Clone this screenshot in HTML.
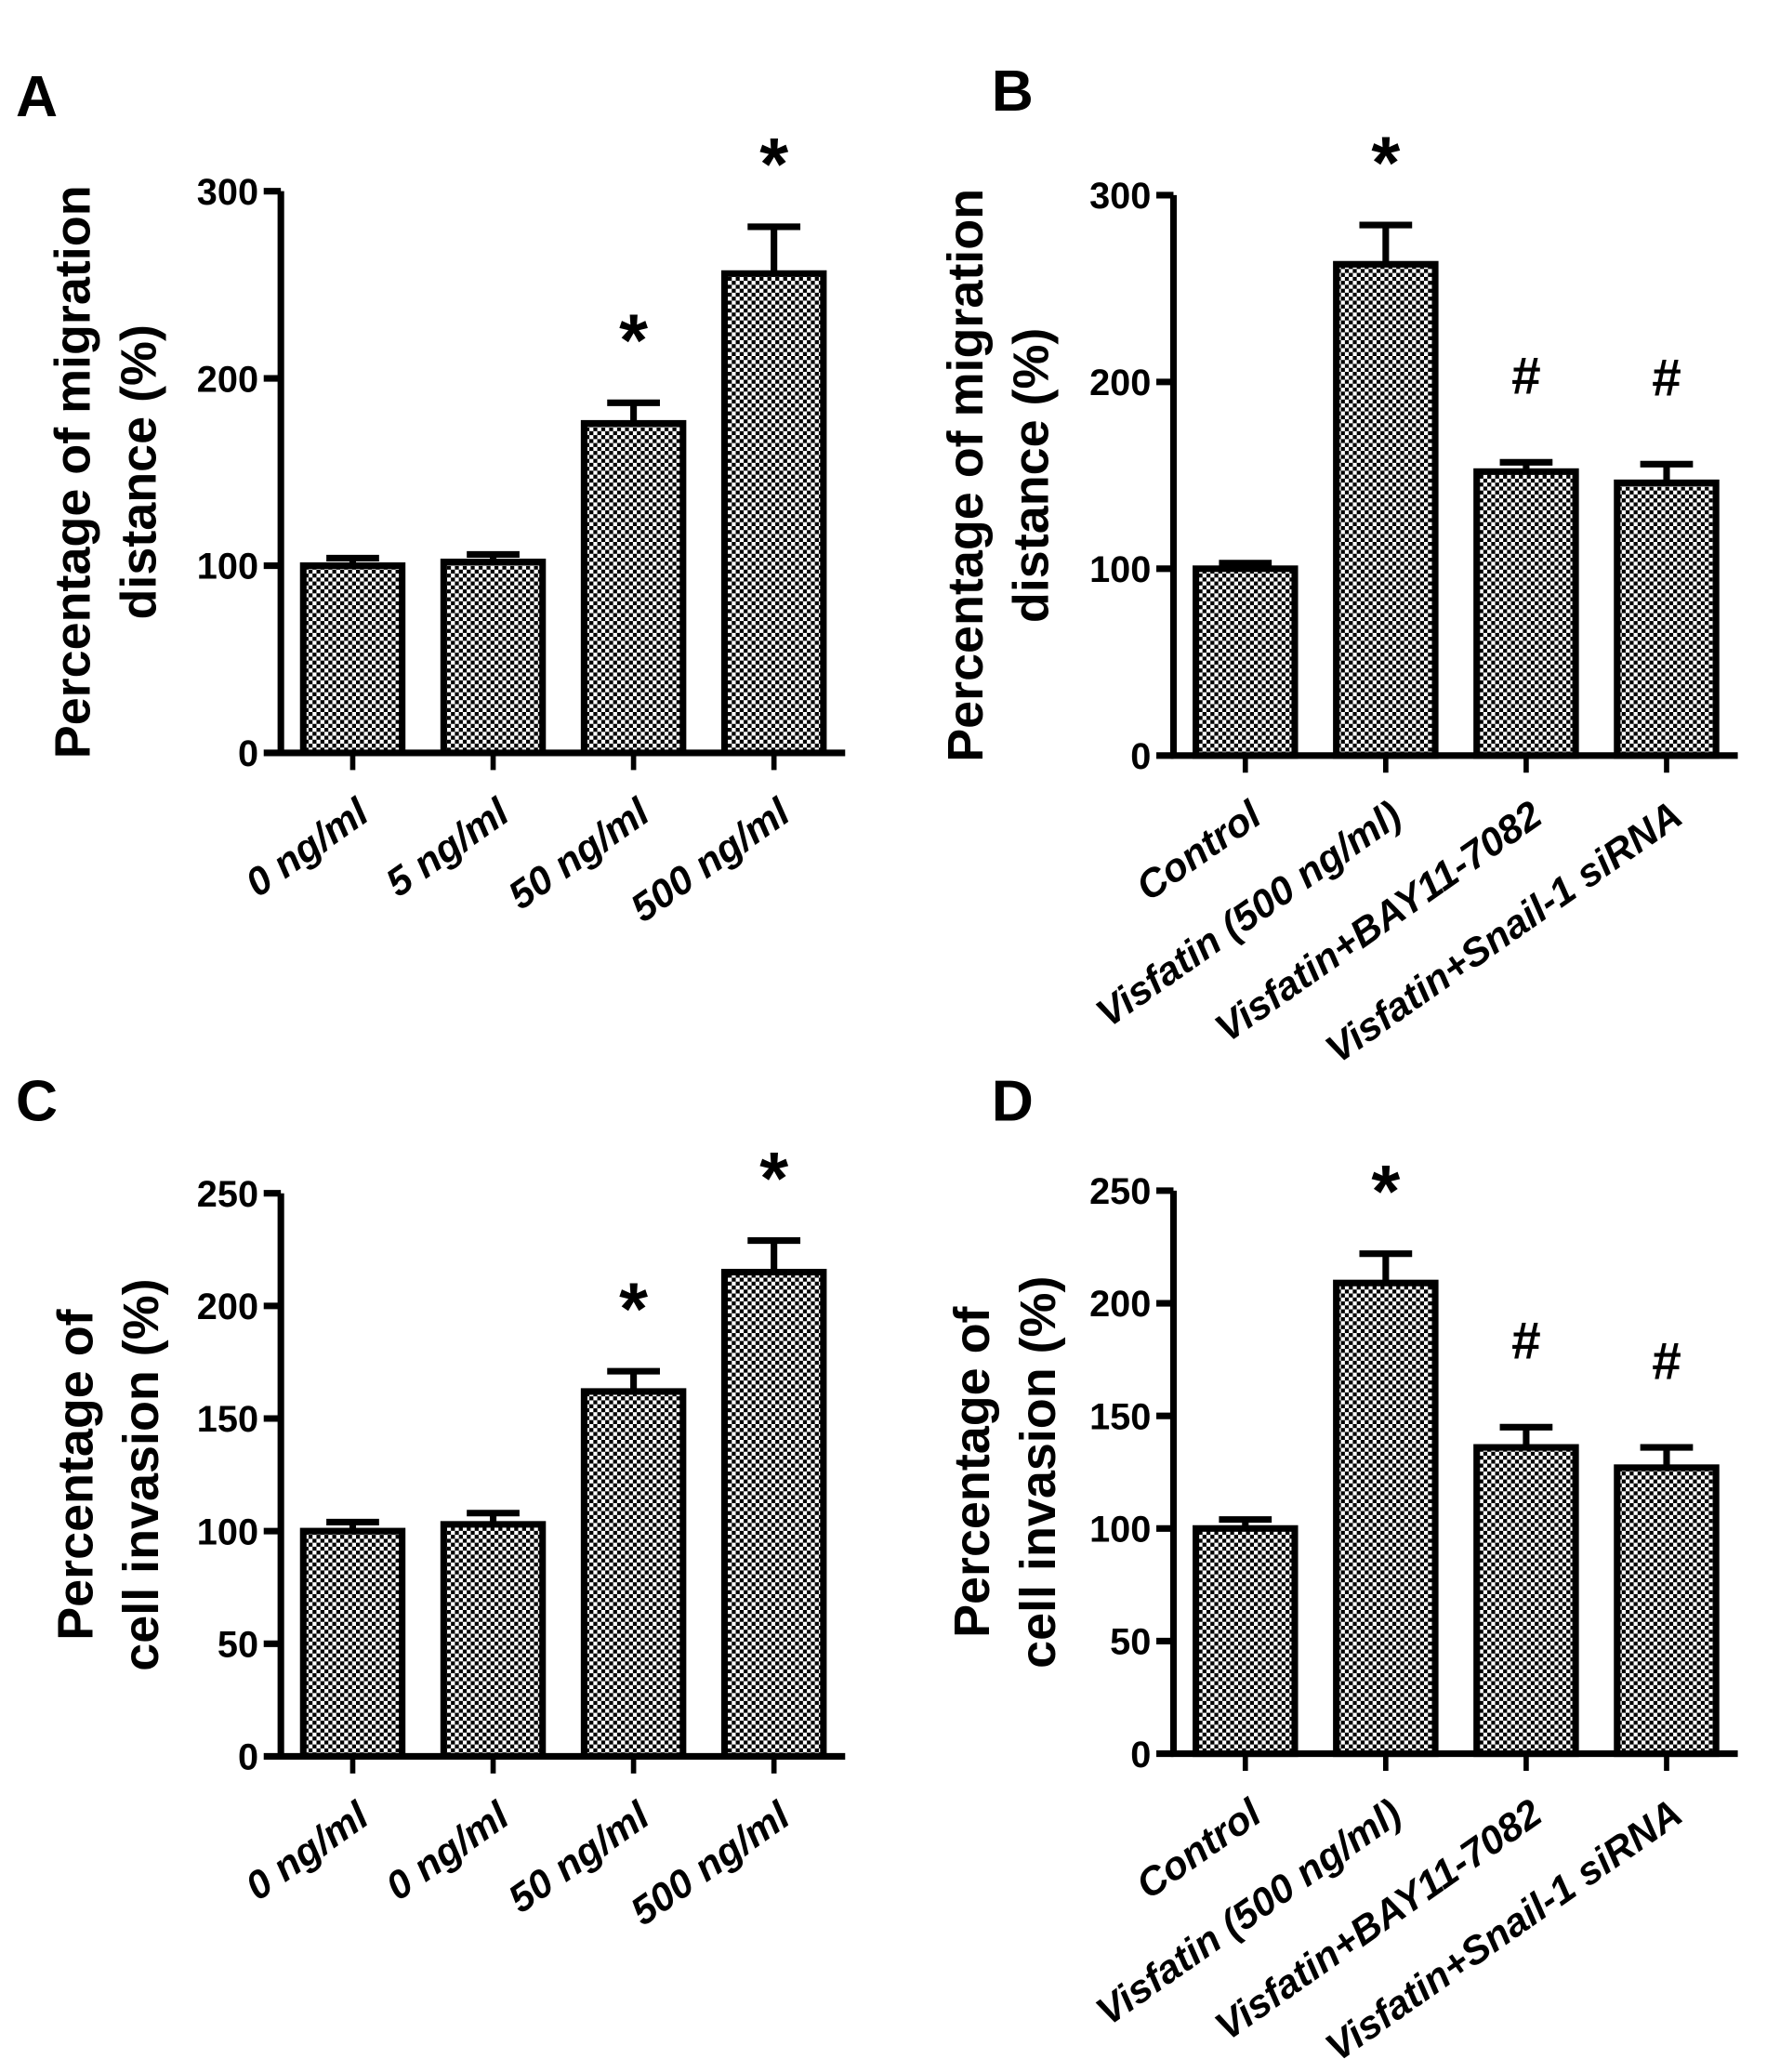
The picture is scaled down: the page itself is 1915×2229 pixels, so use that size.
<!DOCTYPE html>
<html><head><meta charset="utf-8"><style>
html,body{margin:0;padding:0;background:#fff}
svg{display:block}
text{font-family:"Liberation Sans",Arial,sans-serif;font-weight:bold;fill:#000}
</style></head><body>
<svg id="fig" width="1915" height="2229" viewBox="0 0 1350 1571.4" xmlns="http://www.w3.org/2000/svg">
<defs>
<pattern id="chk" width="6" height="6" patternUnits="userSpaceOnUse">
<rect width="6" height="6" fill="#fff"/><rect width="3" height="3" fill="#000"/><rect x="3" y="3" width="3" height="3" fill="#000"/>
</pattern>
</defs>
</svg>
<script>
const catsA = ["0 ng/ml","5 ng/ml","50 ng/ml","500 ng/ml"];
const valsA = [100,102,176,256];
const errA = [104,106,187,281];
const markA = ["","","*","*"];
const catsB = ["Control","Visfatin (500 ng/ml)","Visfatin+BAY11-7082","Visfatin+Snail-1 siRNA"];
const valsB = [100,263,152,146];
const errB = [103,284,157,156];
const markB = ["","*","#","#"];
const catsC = ["0 ng/ml","0 ng/ml","50 ng/ml","500 ng/ml"];
const valsC = [100,103,162,215];
const errC = [104,108,171,229];
const markC = ["","","*","*"];
const valsD = [100,209,136,127];
const errD = [104,222,145,136];
const markD = ["","*","#","#"];
const ticksMig = [0,100,200,300];
const ticksInv = [0,50,100,150,200,250];

const svg = document.getElementById('fig');
const NS = "http://www.w3.org/2000/svg";
function el(tag, attrs, parent){const e=document.createElementNS(NS,tag);for(const k in attrs)e.setAttribute(k,attrs[k]);(parent||svg).appendChild(e);return e;}

function panel(p){
  const g = el('g',{});
  
  
  const letter = el('text',{x:p.lx,y:p.ly,'font-size':44},g); letter.textContent=p.letter;
  
  
  const maxV = p.ticks[p.ticks.length-1];
  const y = v => p.y0 - (p.y0 - p.yTop) * v / maxV;
  const bw = 75, step = 106.5, x0 = p.ax + 17;
  const cx = i => x0 + i*step + bw/2;
  const ya = el('line',{x1:p.ax,y1:p.yTop,x2:p.ax,y2:p.y0,stroke:'#000','stroke-width':5},g);
  
  
  const xa = el('line',{x1:p.ax-2,y1:p.y0,x2:p.ax+428,y2:p.y0,stroke:'#000','stroke-width':5},g);
  
  
  p.ticks.forEach(t=>{
    el('line',{x1:p.ax-13,y1:y(t),x2:p.ax,y2:y(t),stroke:'#000','stroke-width':5},g);
    const tx = el('text',{x:p.ax-17,y:y(t)+10,'font-size':28,'text-anchor':'end'},g);
    tx.textContent=t;
    
    
  });
  const tl = el('text',{transform:`translate(${p.tx1},${(p.yTop+p.y0)/2}) rotate(-90)`,'font-size':38,'text-anchor':'middle'},g);
  tl.textContent=p.t1;
  
  
  const tl2 = el('text',{transform:`translate(${p.tx1+50},${(p.yTop+p.y0)/2}) rotate(-90)`,'font-size':38,'text-anchor':'middle'},g);
  tl2.textContent=p.t2;
  
  
  p.vals.forEach((v,i)=>{
    const bx = x0 + i*step;
    el('line',{x1:cx(i),y1:p.y0,x2:cx(i),y2:p.y0+13,stroke:'#000','stroke-width':4},g);
    el('line',{x1:cx(i),y1:y(v),x2:cx(i),y2:y(p.err[i]),stroke:'#000','stroke-width':5},g);
    el('line',{x1:cx(i)-20,y1:y(p.err[i]),x2:cx(i)+20,y2:y(p.err[i]),stroke:'#000','stroke-width':5},g);
    const r = el('rect',{x:bx,y:y(v),width:bw,height:p.y0-y(v),fill:'url(#chk)',stroke:'#000','stroke-width':5},g);
    
    
    if(p.marks[i]){
      const isStar = p.marks[i]==='*';
      const m = el('text',{x:cx(i),y:y(p.err[i])-(isStar?28:52),'font-size':isStar?56:40,'text-anchor':'middle','font-weight':'normal'},g);
      if(isStar) m.setAttribute('dy','0');
      m.textContent=p.marks[i];
      
      
    }
    const lb = el('text',{transform:`translate(${cx(i)+14},${p.y0+50}) rotate(-35)`,'font-size':30,'text-anchor':'end','font-style':'italic'},g);
    lb.textContent=p.cats[i];
    
    
  });
}
panel({name:'panel-a',letter:'A',lx:12,ly:88,ax:213,yTop:145,y0:571,ticks:ticksMig,vals:valsA,err:errA,marks:markA,cats:catsA,tx1:68,t1:'Percentage of migration',t2:'distance (%)'});
panel({name:'panel-b',letter:'B',lx:752,ly:84,ax:890,yTop:148,y0:573,ticks:ticksMig,vals:valsB,err:errB,marks:markB,cats:catsB,tx1:745,t1:'Percentage of migration',t2:'distance (%)'});
panel({name:'panel-c',letter:'C',lx:12,ly:850,ax:213,yTop:905,y0:1332,ticks:ticksInv,vals:valsC,err:errC,marks:markC,cats:catsC,tx1:70,t1:'Percentage of',t2:'cell invasion (%)'});
panel({name:'panel-d',letter:'D',lx:752,ly:850,ax:890,yTop:903,y0:1330,ticks:ticksInv,vals:valsD,err:errD,marks:markD,cats:catsB,tx1:750,t1:'Percentage of',t2:'cell invasion (%)'});
</script>
</body></html>
